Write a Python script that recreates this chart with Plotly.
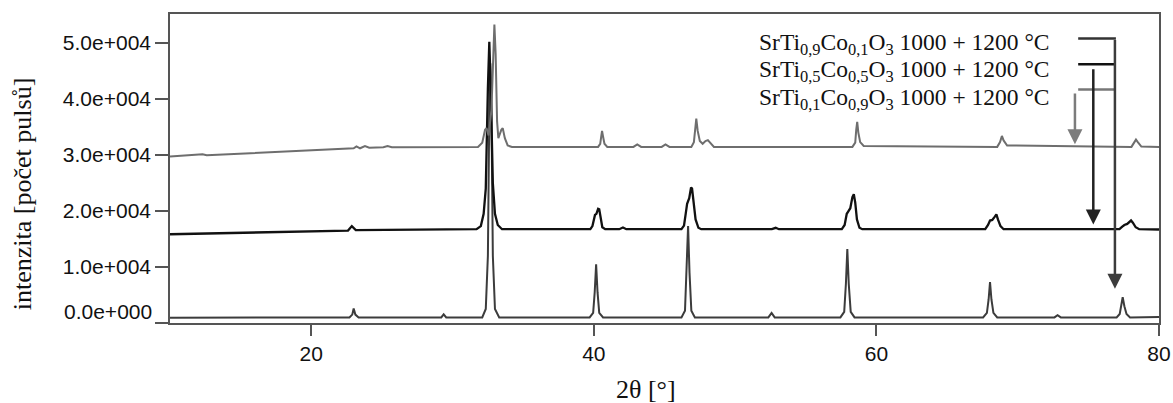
import plotly.graph_objects as go

# ---------------- data ----------------
# x ticks
x_tickvals = [20, 40, 60, 80]
x_ticktext = ["20", "40", "60", "80"]
y_tickvals = [0, 10000, 20000, 30000, 40000, 50000]
y_ticktext = ["", "1.0e+004", "2.0e+004", "3.0e+004", "4.0e+004", "5.0e+004"]

series_names = [
    "SrTi<sub>0,9</sub>Co<sub>0,1</sub>O<sub>3</sub> 1000 + 1200 °C",
    "SrTi<sub>0,5</sub>Co<sub>0,5</sub>O<sub>3</sub> 1000 + 1200 °C",
    "SrTi<sub>0,1</sub>Co<sub>0,9</sub>O<sub>3</sub> 1000 + 1200 °C",
]

# SrTi0.9Co0.1O3 (bottom pattern)
ti09_x = [10, 22.7, 22.9, 23.0, 23.12, 23.35, 29.2, 29.37, 29.55,
          32.1, 32.35, 32.5, 32.6, 32.67, 32.75, 32.85, 33.0, 33.3,
          39.7, 39.95, 40.06, 40.16, 40.26, 40.38, 40.65,
          46.2, 46.45, 46.57, 46.67, 46.77, 46.9, 47.15,
          52.35, 52.58, 52.8,
          57.45, 57.72, 57.84, 57.94, 58.04, 58.18, 58.45,
          67.55, 67.82, 67.94, 68.04, 68.14, 68.28, 68.55,
          72.6, 72.82, 73.05,
          77.0, 77.22, 77.33, 77.43, 77.55, 77.7, 77.95, 80]
ti09_y = [950, 1000, 1500, 2600, 1500, 1000, 1000, 1550, 1000,
          1000, 2500, 12000, 38000, 46400, 38000, 12000, 2500, 1000,
          1000, 1800, 5500, 10500, 5500, 1800, 1000,
          1000, 2200, 9000, 17300, 9000, 2200, 1000,
          1000, 1800, 1000,
          1000, 2000, 7000, 13200, 7000, 2000, 1000,
          1000, 1800, 4200, 7300, 4200, 1800, 1000,
          1000, 1400, 1000,
          1000, 1600, 3000, 4600, 3000, 1600, 1000, 1050]

# SrTi0.5Co0.5O3 (middle pattern)
ti05_x = [10, 20, 22.6, 22.87, 23.15, 31.7,
          32.0, 32.2, 32.35, 32.5, 32.6, 32.7, 32.85, 33.0, 33.2, 33.5,
          39.75, 39.9, 40.0, 40.08, 40.18, 40.3, 40.38, 40.48, 40.6, 40.8,
          41.8, 42.06, 42.3,
          46.2, 46.38, 46.5, 46.6, 46.75, 46.88, 46.95, 47.05, 47.2, 47.4, 47.6,
          52.6, 52.87, 53.1,
          57.55, 57.75, 57.9, 58.0, 58.15, 58.3, 58.4, 58.5, 58.62, 58.8, 59.0,
          67.7, 67.9, 68.04, 68.2, 68.38, 68.49, 68.6, 68.78, 69.0,
          77.2, 77.4, 77.55, 77.75, 77.92, 78.02, 78.15, 78.35, 78.6, 80]
ti05_y = [15850, 16350, 16500, 17300, 16600, 16750,
          17300, 19500, 24000, 42000, 50200, 42000, 25000, 19500, 17500, 16750,
          16750, 17300, 18600, 19300, 19500, 20400, 20300, 18500, 17100, 16750,
          16750, 17050, 16750,
          16750, 17400, 19500, 21300, 22300, 24200, 24000, 22000, 18500, 17000, 16750,
          16750, 17000, 16750,
          16750, 17500, 19500, 19900, 20500, 22500, 23000, 21500, 18500, 17000, 16750,
          16750, 17500, 18300, 18400, 19000, 19400, 18500, 17300, 16750,
          16750, 17200, 17500, 17700, 18200, 18300, 17900, 17100, 16750, 16700]

# SrTi0.1Co0.9O3 (top pattern)
ti01_x = [10, 12.3, 12.6, 20, 23.0, 23.2, 23.45, 23.8, 24.1, 25.1, 25.4, 25.7,
          31.8, 32.1, 32.3, 32.4, 32.55, 32.75, 32.88, 32.96, 33.05, 33.15, 33.24,
          33.45, 33.55, 33.7, 33.9, 34.2,
          40.3, 40.45, 40.52, 40.58, 40.65, 40.75, 40.95,
          42.8, 43.07, 43.35, 44.8, 45.07, 45.35,
          46.9, 47.08, 47.17, 47.25, 47.35, 47.5, 47.7, 47.9, 48.07, 48.25, 48.5,
          58.3, 58.5, 58.57, 58.64, 58.72, 58.85, 59.1,
          68.55, 68.75, 68.88, 69.0, 69.25,
          78.05, 78.25, 78.37, 78.5, 78.75, 80]
ti01_y = [29750, 30150, 29950, 30800, 31200, 31550, 31200, 31600, 31300, 31400, 31600, 31400,
          31450, 32200, 34500, 34800, 33500, 38000, 50000, 53300, 48000, 36000, 33000,
          34500, 34800, 33000, 31700, 31450,
          31450, 32000, 33300, 34300, 33300, 32000, 31450,
          31450, 31900, 31450, 31450, 31900, 31450,
          31450, 32300, 34300, 36500, 34300, 32500, 32000, 32500, 32650, 32100, 31450,
          31450, 32200, 34500, 35900, 34000, 32300, 31600,
          31450, 32300, 33400, 32600, 31700,
          31450, 32200, 32750, 32300, 31500, 31450]

# legend key lines and pointer arrows (data coordinates)
key_x0, key_x1 = 74.28, 76.95
key_y = [50790, 46200, 41680]
arrow_x = [76.88, 75.35, 74.05]
arrow_tail_y = [50790, 45600, 41250]
arrow_tip_y = [6100, 17600, 31900]

colors = ["#3c3c3c", "#111111", "#6e6e6e"]
key_colors = ["#333333", "#111111", "#777777"]
arrow_colors = ["#3c3c3c", "#222222", "#7c7c7c"]

# ---------------- figure ----------------
fig = go.Figure()
for xs, ys, c, w in [(ti09_x, ti09_y, colors[0], 2), (ti05_x, ti05_y, colors[1], 2.3),
                     (ti01_x, ti01_y, colors[2], 2)]:
    fig.add_trace(go.Scatter(x=xs, y=ys, mode="lines", line=dict(color=c, width=w),
                             showlegend=False, hoverinfo="skip"))

serif = "Liberation Serif, Times New Roman, serif"
sans = "Liberation Sans, Arial, sans-serif"

annotations = []
# legend texts
text_y_px = [43.8, 71.0, 98.5]
for name, ypx in zip(series_names, text_y_px):
    annotations.append(dict(text=name, xref="paper", yref="paper",
                            x=(757 - 170) / 989, y=(322.7 - ypx) / 308.7,
                            xanchor="left", yanchor="middle", showarrow=False,
                            font=dict(family=serif, size=23.5, color="#111111")))
# arrows
for ax_, yt, ytip, c in zip(arrow_x, arrow_tail_y, arrow_tip_y, arrow_colors):
    annotations.append(dict(x=ax_, y=ytip, ax=ax_, ay=yt, xref="x", yref="y",
                            axref="x", ayref="y", text="", showarrow=True,
                            arrowhead=2, arrowsize=1.2, arrowwidth=2.5,
                            arrowcolor=c, standoff=0, startstandoff=0))
# zero tick label (drawn raised, as in the original)
annotations.append(dict(text="0.0e+000", xref="paper", yref="paper",
                        x=(154 - 170) / 989, y=(322.7 - 311) / 308.7,
                        xanchor="right", yanchor="middle", showarrow=False,
                        font=dict(family=sans, size=21, color="#111111")))
# axis titles
annotations.append(dict(text="2θ [°]", xref="paper", yref="paper",
                        x=(646 - 170) / 989, y=(322.7 - 389) / 308.7,
                        xanchor="center", yanchor="middle", showarrow=False,
                        font=dict(family=serif, size=26, color="#111111")))
annotations.append(dict(text="intenzita [počet pulsů]", xref="paper", yref="paper",
                        x=(22.5 - 170) / 989, y=(322.7 - 194.5) / 308.7,
                        xanchor="center", yanchor="middle", showarrow=False, textangle=-90,
                        font=dict(family=serif, size=26, color="#111111")))

shapes = []
for ky, c in zip(key_y, key_colors):
    shapes.append(dict(type="line", xref="x", yref="y", x0=key_x0, x1=key_x1,
                       y0=ky, y1=ky, line=dict(color=c, width=2.5)))

fig.update_layout(
    width=1173, height=403,
    margin=dict(l=170, r=14, t=14, b=80, pad=0),
    plot_bgcolor="white", paper_bgcolor="white",
    annotations=annotations, shapes=shapes,
    showlegend=False,
)
fig.update_xaxes(range=[10, 80], tickvals=x_tickvals, ticktext=x_ticktext,
                 automargin=False,
                 ticks="outside", ticklen=11, tickcolor="#555555", tickwidth=1.5,
                 showline=True, linecolor="#555555", linewidth=1.5, mirror=True,
                 showgrid=False, zeroline=False,
                 tickfont=dict(family=sans, size=21, color="#111111"))
fig.update_yaxes(range=[0, 55180], tickvals=y_tickvals, ticktext=y_ticktext,
                 automargin=False,
                 ticks="outside", ticklen=13, tickcolor="#555555", tickwidth=1.5,
                 showline=True, linecolor="#555555", linewidth=1.5, mirror=True,
                 showgrid=False, zeroline=False,
                 tickfont=dict(family=sans, size=21, color="#111111"))

fig.write_html("out.html")
